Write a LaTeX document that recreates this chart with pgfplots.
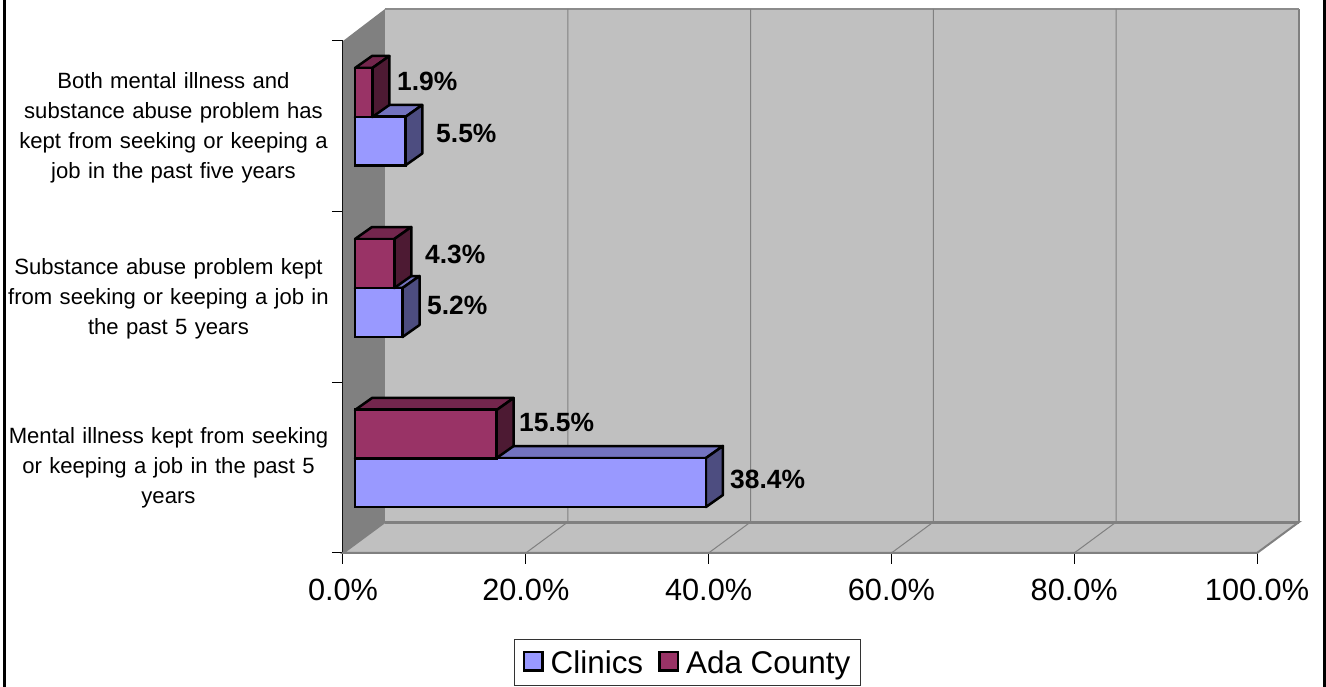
\documentclass[border=0pt]{standalone}
\usepackage{fontspec}
\setmainfont{Liberation Sans}
\usepackage{pgfplots}
\pgfplotsset{compat=1.18}
\definecolor{wall}{HTML}{C0C0C0}
\definecolor{sidewall}{HTML}{808080}
\definecolor{clinF}{HTML}{9999FF}
\definecolor{clinT}{HTML}{7373BF}
\definecolor{clinS}{HTML}{4D4D80}
\definecolor{adaF}{HTML}{993366}
\definecolor{adaT}{HTML}{73264D}
\definecolor{adaS}{HTML}{4D1A33}
\pgfplotsset{face/.style={draw=black,line width=2.5pt,line join=round,xshift=12pt,forget plot}}
\tikzset{lbl/.style={font=\bfseries\fontsize{26.4}{30}\selectfont,anchor=base west,inner sep=0pt,text=black}}
\begin{document}
\begin{tikzpicture}
\useasboundingbox (0,0) rectangle (1326pt,687pt);
\fill[white] (0,0) rectangle (1326pt,687pt);
\draw[black,line width=3pt] (4pt,0) -- (4pt,687pt);
\draw[black,line width=3pt] (1324.5pt,0) -- (1324.5pt,687pt);
\begin{axis}[
 at={(343pt,134pt)},anchor=south west,scale only axis,width=914pt,height=512pt,
 xmin=0,xmax=100,ymin=0,ymax=3,clip=false,
 axis lines=left,axis line style={-},
 x axis line style={draw=sidewall!85!black,line width=2pt},
 y axis line style={draw=black,line width=1.2pt},
 tick align=outside,major tick length=11pt,
 tick style={draw=black,line width=1pt},
 xtick={0,20,40,60,80,100},
 xticklabel={\pgfmathprintnumber[fixed,fixed zerofill,precision=1,assume math mode=true]{\tick}\%},
 xticklabel style={font=\fontsize{30.7}{34}\selectfont,yshift=-12pt},
 ytick={0,1,2,3},yticklabels={},
 extra y ticks={0.516,1.507,2.508},
 extra y tick labels={{Mental illness kept from seeking\\or keeping a job in the past 5\\years},
  {Substance abuse problem kept\\from seeking or keeping a job in\\the past 5 years},
  {\hspace*{10pt}Both mental illness and\\\hspace*{10pt}substance abuse problem has\\\hspace*{10pt}kept from seeking or keeping a\\\hspace*{10pt}job in the past five years}},
 extra y tick style={major tick length=0pt,yticklabel style={font=\fontsize{22.1}{29.8}\selectfont,align=center,text width=330pt,anchor=east,xshift=-6pt,yshift=-3pt}},
 legend columns=2,
 legend style={at={(0.3769,-0.2139)},anchor=center,draw=black!80,line width=1pt,
   font=\fontsize{31.4}{34}\selectfont,inner xsep=8.5pt,inner ysep=9pt,row sep=0pt,
   /tikz/every even column/.append style={column sep=13pt}},
 legend image code/.code={\draw[draw=black,line width=2.5pt,#1,xshift=-12pt] (0pt,-7.75pt) rectangle (18.5pt,10.75pt);\path (11.5pt,0pt);},
]
% left wall, floor, back wall
\addplot[fill=sidewall,draw=none,forget plot] coordinates {(0,0)(4.595,0.1816)(4.595,3.1875)(0,3)} --cycle;
\addplot[fill=wall,draw=sidewall,line width=2pt,forget plot] coordinates {(0,0)(100,0)(104.595,0.1816)(4.595,0.1816)} --cycle;
\addplot[fill=wall,draw=none,forget plot] coordinates {(4.595,0.1816)(104.595,0.1816)(104.595,3.1875)(4.595,3.1875)} --cycle;
\addplot[draw=sidewall,line width=3pt,forget plot] coordinates {(4.595,0.1816)(104.595,0.1816)};
\addplot[draw=sidewall,line width=2.4pt,forget plot] coordinates {(104.595,0.1816)(104.595,3.1875)};
\addplot[draw=black!45,line width=2pt,forget plot] coordinates {(4.595,3.1875)(104.595,3.1875)};
% gridlines
\addplot[draw=sidewall,line width=1pt,forget plot] coordinates {(20,0)(24.595,0.1816)(24.595,3.1875)};
\addplot[draw=sidewall,line width=1pt,forget plot] coordinates {(40,0)(44.595,0.1816)(44.595,3.1875)};
\addplot[draw=sidewall,line width=1pt,forget plot] coordinates {(60,0)(64.595,0.1816)(64.595,3.1875)};
\addplot[draw=sidewall,line width=1pt,forget plot] coordinates {(80,0)(84.595,0.1816)(84.595,3.1875)};
% Clinics: top and side faces
\addplot[face,fill=clinT] coordinates {(0,0.5566)(38.4,0.5566)(40.26,0.6269)(1.86,0.6269)} --cycle;
\addplot[face,fill=clinS] coordinates {(38.4,0.2695)(40.26,0.3398)(40.26,0.6269)(38.4,0.5566)} --cycle;
\addplot[face,fill=clinT] coordinates {(0,1.5527)(5.2,1.5527)(7.06,1.623)(1.86,1.623)} --cycle;
\addplot[face,fill=clinS] coordinates {(5.2,1.2656)(7.06,1.3359)(7.06,1.623)(5.2,1.5527)} --cycle;
\addplot[face,fill=clinT] coordinates {(0,2.5547)(5.5,2.5547)(7.36,2.625)(1.86,2.625)} --cycle;
\addplot[face,fill=clinS] coordinates {(5.5,2.2705)(7.36,2.3408)(7.36,2.625)(5.5,2.5547)} --cycle;
% Clinics: front faces
\addplot[xbar,bar shift=0pt,bar width=49pt,fill=clinF,draw=black,line width=2.5pt,xshift=12pt]
  coordinates {(38.4,0.413)(5.2,1.409)(5.5,2.4126)};
\addlegendentry{Clinics}
% Ada County: top and side faces
\addplot[face,fill=adaT] coordinates {(0,0.8379)(15.5,0.8379)(17.36,0.9082)(1.86,0.9082)} --cycle;
\addplot[face,fill=adaS] coordinates {(15.5,0.5566)(17.36,0.6269)(17.36,0.9082)(15.5,0.8379)} --cycle;
\addplot[face,fill=adaT] coordinates {(0,1.8398)(4.3,1.8398)(6.16,1.9101)(1.86,1.9101)} --cycle;
\addplot[face,fill=adaS] coordinates {(4.3,1.5527)(6.16,1.623)(6.16,1.9101)(4.3,1.8398)} --cycle;
\addplot[face,fill=adaT] coordinates {(0,2.8418)(1.9,2.8418)(3.76,2.9121)(1.86,2.9121)} --cycle;
\addplot[face,fill=adaS] coordinates {(1.9,2.5547)(3.76,2.625)(3.76,2.9121)(1.9,2.8418)} --cycle;
% Ada County: front faces
\addplot[xbar,bar shift=0pt,bar width=49pt,fill=adaF,draw=black,line width=2.5pt,xshift=12pt]
  coordinates {(15.5,0.697)(4.3,1.696)(1.9,2.698)};
\addlegendentry{Ada County}
% value labels
\node[lbl] at (axis cs:42.34,0.375) {38.4\%};
\node[lbl] at (axis cs:19.26,0.709) {15.5\%};
\node[lbl] at (axis cs:9.19,1.400) {5.2\%};
\node[lbl] at (axis cs:8.97,1.699) {4.3\%};
\node[lbl] at (axis cs:10.18,2.408) {5.5\%};
\node[lbl] at (axis cs:5.91,2.707) {1.9\%};
\end{axis}
\end{tikzpicture}
\end{document}
